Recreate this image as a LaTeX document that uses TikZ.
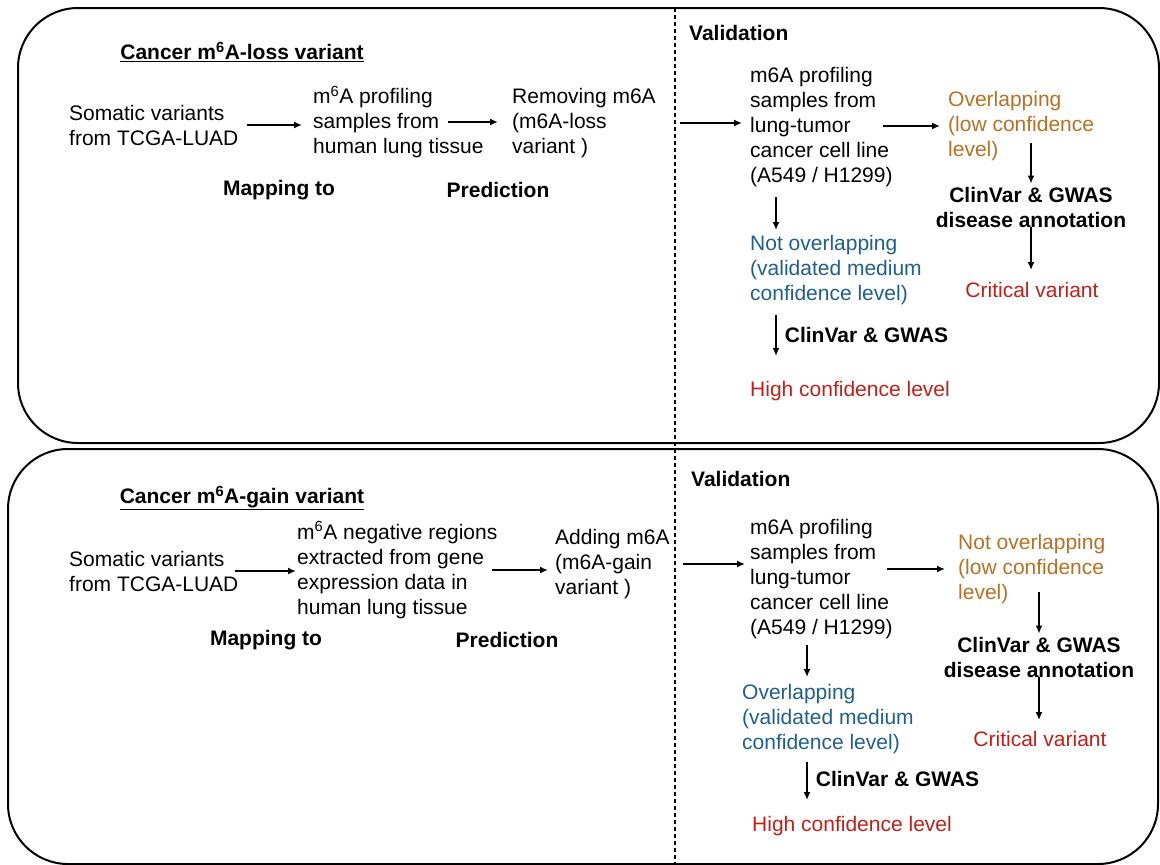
\documentclass[tikz,border=0pt]{standalone}
\usepackage{fontspec}
\setmainfont{Liberation Sans}
\usetikzlibrary{positioning, arrows.meta}
\definecolor{lowc}{RGB}{184,112,36}
\definecolor{medc}{RGB}{31,95,140}
\definecolor{highc}{RGB}{192,32,24}

\begin{document}
\begin{tikzpicture}[x=1pt, y=-1pt,
  txt/.style={align=left, anchor=west, inner sep=0pt},
  ctr/.style={align=center, inner sep=0pt},
  head/.style={font=\bfseries, inner sep=0pt},
  conn/.style={->, line width=1.7pt},
  panel/.style={draw, line width=2pt, rounded corners=60pt},
  >={Latex[length=8pt, width=7pt]}]
  \fontsize{21}{25}\selectfont
  \useasboundingbox (0,0) rectangle (1160,865);

  % the two panels and the split
  \draw[panel] (18,8) rectangle (1159,443);
  \draw[panel] (8,449) rectangle (1158,864);
  \coordinate (sepA) at (675,8);
  \coordinate (sepB) at (675,865);
  \draw[line width=1.8pt, dash pattern=on 4pt off 3pt] (sepA) -- (sepB);

  % m6A-loss
  \node[head] (titleA) at (242,52) {\underline{Cancer m\textsuperscript{6}A-loss variant}};
  \node[txt] (somA) at (69,125) {Somatic variants\\from TCGA-LUAD};
  \node[txt] (profA) at (313,122) {m\textsuperscript{6}A profiling\\samples from\\human lung tissue};
  \node[txt] (remA) at (512,123) {Removing m6A\\(m6A-loss\\variant )};
  \node[head] (mapA) at (279,190) {Mapping to};
  \node[head] (predA) at (498,190) {Prediction};
  \node[head, anchor=west] (valA) at (689,33) {Validation};
  \node[txt] (cellA) at (750,127) {m6A profiling\\samples from\\lung-tumor\\cancer cell line\\(A549 / H1299)};
  \node[txt, text=lowc] (lowA) at (948,126) {Overlapping\\(low confidence\\level)};
  \node[ctr, font=\bfseries] (clinA) at (1031,207) {ClinVar \& GWAS\\disease annotation};
  \node[ctr, text=highc] (critA) at (1032,290) {Critical variant};
  \node[txt, text=medc] (medA) at (750,270) {Not overlapping\\(validated medium\\confidence level)};
  \node[txt, text=highc] (highA) at (750,391) {High confidence level};

  \draw[conn, shorten <=8pt, shorten >=11pt] (somA.east) -- (somA.east -| profA.west);
  \draw[conn, shorten >=14pt] ([xshift=-36pt]profA.east) -- (profA.east -| remA.west);
  \draw[conn, shorten <=5pt, shorten >=8pt] (remA.east -| sepA) -- (remA.east -| cellA.west);
  \draw[conn, shorten >=8pt] ([xshift=-10pt]cellA.east |- lowA.west) -- (lowA.west);
  \draw[conn, shorten <=-18pt, shorten >=3pt] (clinA.north |- lowA.south) -- (clinA.north);
  \draw[conn, shorten >=12pt] (clinA.south) -- (clinA.south |- critA.north);
  \draw[conn, shorten <=10pt, shorten >=5pt] ([xshift=26pt]cellA.south west) -- ([xshift=26pt]cellA.south west |- medA.north);
  \draw[conn, shorten <=10pt, shorten >=25pt] ([xshift=26pt]medA.south west) -- node[pos=0.4, right, font=\bfseries, inner sep=8pt] (gwasA) {ClinVar \& GWAS} ([xshift=26pt]medA.south west |- highA.north);

  % m6A-gain
  \node[head] (titleB) at (242,498) {\underline{Cancer m\textsuperscript{6}A-gain variant}};
  \node[txt] (somB) at (69,571) {Somatic variants\\from TCGA-LUAD};
  \node[txt] (negB) at (297,570) {m\textsuperscript{6}A negative regions\\extracted from gene\\expression data in\\human lung tissue};
  \node[txt] (addB) at (555,564) {Adding m6A\\(m6A-gain\\variant )};
  \node[head] (mapB) at (266,640) {Mapping to};
  \node[head] (predB) at (507,640) {Prediction};
  \node[head, anchor=west] (valB) at (691,479) {Validation};
  \node[txt] (cellB) at (750,579) {m6A profiling\\samples from\\lung-tumor\\cancer cell line\\(A549 / H1299)};
  \node[txt, text=lowc] (lowB) at (958,569) {Not overlapping\\(low confidence\\level)};
  \node[ctr, font=\bfseries] (clinB) at (1039,657) {ClinVar \& GWAS\\disease annotation};
  \node[ctr, text=highc] (critB) at (1040,739) {Critical variant};
  \node[txt, text=medc] (medB) at (742,719) {Overlapping\\(validated medium\\confidence level)};
  \node[txt, text=highc] (highB) at (752,826) {High confidence level};

  \draw[conn, shorten <=-4pt, shorten >=1pt] (somB.east) -- (somB.east -| negB.west);
  \draw[conn, shorten >=7pt] ([xshift=-6pt]negB.east) -- (negB.east -| addB.west);
  \draw[conn, shorten <=8pt, shorten >=5pt] (addB.east -| sepA) -- (addB.east -| cellB.west);
  \draw[conn, shorten >=13pt] ([xshift=-6pt]cellB.east |- lowB.west) -- (lowB.west);
  \draw[conn, shorten <=-12pt, shorten >=3pt] (clinB.north |- lowB.south) -- (clinB.north);
  \draw[conn, shorten >=11pt] (clinB.south) -- (clinB.south |- critB.north);
  \draw[conn, shorten <=6pt, shorten >=7pt] ([xshift=57pt]cellB.south west) -- ([xshift=57pt]cellB.south west |- medB.north);
  \draw[conn, shorten <=8pt, shorten >=16pt] ([xshift=65pt]medB.south west) -- node[pos=0.4, right, font=\bfseries, inner sep=8pt] (gwasB) {ClinVar \& GWAS} ([xshift=65pt]medB.south west |- highB.north);
\end{tikzpicture}
\end{document}
